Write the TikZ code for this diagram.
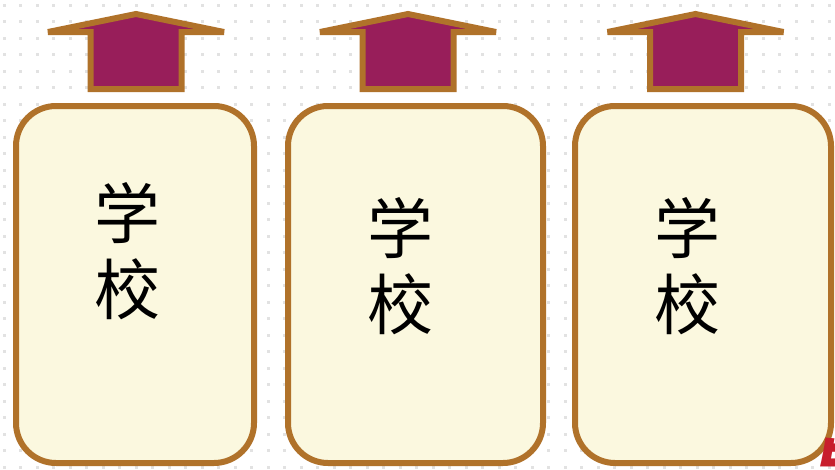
\documentclass[tikz,border=0pt]{standalone}
\usepackage{fontspec}
\newfontfamily\cjk{Noto Sans CJK SC}
\usepackage{tikz}
\usetikzlibrary{positioning}
\usepackage{xcolor}
\definecolor{hbrown}{RGB}{176,114,42}
\definecolor{hpurple}{RGB}{152,30,90}
\definecolor{hcream}{RGB}{251,248,223}
\definecolor{hdot}{RGB}{226,226,226}
\definecolor{hred}{RGB}{200,30,45}
\tikzstyle{panel} = [rectangle, rounded corners=40pt, draw=hbrown, fill=hcream, line width=6pt, inner sep=0pt, minimum height=357pt]
\tikzstyle{houseup} = [draw=hbrown, fill=hpurple, line width=6pt, miter limit=2]
\tikzstyle{word} = [align=center, inner sep=0pt, text=black, font=\cjk\fontsize{66}{76}\selectfont]

\begin{document}
\begin{tikzpicture}[x=1pt, y=-1pt]
\useasboundingbox (0,0) rectangle (835,469);
\clip (0,0) rectangle (835,469);

% Dotted background
\foreach \i in {0,...,50}
  \foreach \j in {0,...,28}
    \fill[hdot] ({2.5+16.5*\i},{3.5+16.5*\j}) rectangle ++(3,3);

% Boxes
\node (box1) [panel, minimum width=238pt] at (135,284.5) {};
\node (box2) [panel, minimum width=255pt] at (415.5,284.5) {};
\node (box3) [panel, minimum width=256pt] at (703,284.5) {};

% Arrows on top
\foreach \cx in {136,408,695.5}
  \draw[houseup] (\cx-88,32) -- (\cx,14) -- (\cx+88,32) -- (\cx+45.5,32)
    -- (\cx+45.5,89) -- (\cx-45.5,89) -- (\cx-45.5,32) -- cycle;

% Labels
\node (word1) [word] at (127,251) {学\\校};
\node (word2) [word] at (400,266) {学\\校};
\node (word3) [word] at (687,266) {学\\校};

% Corner mark
\node (mark) [anchor=north west, inner sep=0pt, text=hred, font=\cjk\bfseries\fontsize{60}{60}\selectfont] at (811,438) {与};
\end{tikzpicture}
\end{document}
